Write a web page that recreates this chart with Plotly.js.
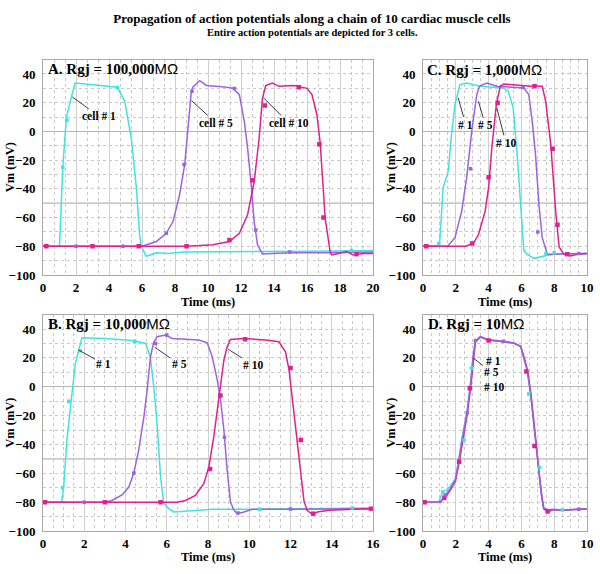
<!DOCTYPE html>
<html>
<head>
<meta charset="utf-8">
<script src="https://cdn.plot.ly/plotly-3.0.1.min.js"></script>
<style>html,body{margin:0;padding:0;background:#fff;}#chart{width:600px;height:574px;}</style>
</head>
<body>
<div id="chart"></div>
<script>
// ---------- Data (time in ms, Vm in mV) ----------
// Panel A: Rgj = 100,000 MOhm
var tA1 = [0, 1.0, 1.2, 1.42, 1.72, 1.95, 3.0, 4.5, 4.95, 5.35, 5.66, 5.86, 5.96, 6.26, 6.87, 7.6, 8.5, 12, 16, 20];
var vA1 = [-80, -80, -25, 10, 24, 33.7, 32.5, 30.7, 21, -4.6, -39.5, -73, -80, -87, -84.5, -85, -84, -84, -83.5, -83];
var tA5 = [0, 6.0, 6.87, 7.47, 7.88, 8.28, 8.59, 8.79, 8.99, 9.09, 9.5, 9.9, 11.0, 11.5, 11.9, 12.2, 12.4, 12.6, 12.8, 13.0, 13.3, 13.9, 15, 17, 20];
var vA5 = [-80, -80, -76.7, -71, -62.8, -44, -23, 0, 28, 31, 35.3, 32, 31, 30, 25.6, 7, -11.6, -35, -62.8, -79, -85.3, -85, -84.5, -84.5, -84];
var tA10 = [0, 8.7, 10.3, 11.3, 11.9, 12.4, 12.8, 13.1, 13.3, 13.5, 13.9, 14.3, 15.2, 16.0, 16.3, 16.6, 16.8, 17.1, 17.4, 17.5, 17.9, 18.4, 18.8, 19.4, 20];
var vA10 = [-80, -80, -79, -76.7, -71, -58, -35, -4.6, 23, 32, 33.7, 31.4, 32, 30, 25.6, 11.6, -8, -60.5, -83.7, -86, -85, -83.7, -86, -85, -85];
// sample markers seen on the curves
var mtA1 = [1.2, 1.45, 4.5, 18.7], mvA1 = [-25, 8, 30.5, -83];
var mtA5 = [2, 4.85, 7.47, 8.55, 9.03, 11.6, 12.9, 14.95], mvA5 = [-80, -80, -71, -23, 28, 29.8, -68.6, -84];
var mtA10 = [0.2, 3, 5.8, 8.7, 11.3, 12.7, 13.45, 15.5, 16.75, 17.0, 19.0], mvA10 = [-80, -80, -80, -80, -75.6, -34, 18, 30.7, -9, -60, -85.5];

// Panel B: Rgj = 10,000 MOhm
var tB1 = [0, 0.9, 1.0, 1.16, 1.37, 1.57, 1.73, 1.89, 3.03, 4.32, 4.97, 5.2, 5.37, 5.53, 5.7, 5.86, 6.1, 6.34, 7.56, 8.2, 10, 12, 14, 16];
var vB1 = [-80, -80, -69.5, -37, -9.3, 16, 25.4, 34, 33.5, 32, 30, 21, 0, -25.5, -62.5, -81, -84.5, -86.8, -85.7, -85, -85, -84.8, -84.5, -84];
var tB5 = [0, 3.0, 3.35, 3.83, 4.16, 4.4, 4.64, 4.89, 5.05, 5.21, 5.37, 5.53, 5.94, 6.26, 7.56, 7.96, 8.2, 8.45, 8.61, 8.77, 8.93, 9.09, 9.26, 9.42, 9.74, 10.15, 12, 14, 16];
var vB5 = [-80, -80, -78.8, -75, -69.5, -60, -44, -21, -2.4, 20.8, 31, 34.7, 35.8, 33.5, 32.4, 30.5, 21, 4.6, -9.3, -30, -58, -80, -85.7, -88, -86.8, -85, -85, -84.5, -84.5];
var tB10 = [0, 6.5, 6.91, 7.39, 7.8, 8.04, 8.28, 8.45, 8.61, 8.77, 8.93, 9.09, 9.74, 10.8, 11.44, 11.76, 11.93, 12.09, 12.33, 12.5, 12.65, 12.8, 13.06, 13.3, 13.87, 15, 16];
var vB10 = [-80, -80, -78.8, -75.3, -67, -55.6, -34.8, -16, 4.6, 18.5, 27.7, 32.8, 33.5, 32.4, 31.2, 24, 11.5, -9.3, -37, -62.5, -78.8, -85.7, -88.5, -86.8, -85.7, -85, -84.5];
var mtB1 = [0.95, 1.25, 1.8, 4.45, 10.5, 15], mvB1 = [-70, -10, 25, 31.5, -85, -84];
var mtB5 = [2, 4.4, 5.45, 6.0, 8.8, 9.45, 12], mvB5 = [-80, -60, 30, 35.8, -35, -87.5, -84.8];
var mtB10 = [0.1, 3.0, 5.7, 8.1, 8.6, 9.8, 12.0, 12.5, 13.1, 15.9], mvB10 = [-80, -80, -80, -57, -6, 33, 13, -37, -88, -84.5];

// Panel C: Rgj = 1,000 MOhm
var tC1 = [0, 1.0, 1.23, 1.54, 1.74, 1.95, 2.25, 2.66, 3.48, 4.92, 5.2, 5.5, 5.74, 5.94, 6.15, 6.35, 6.76, 7.38, 7.99, 9, 10];
var vC1 = [-80, -80, -39, -27.7, -2, 18.7, 32.6, 33.7, 31.4, 30.3, 28, 16.4, -16, -51, -83, -85.6, -88.4, -86.8, -85.6, -85.2, -85];
var tC5 = [0, 1.5, 1.95, 2.36, 2.66, 2.97, 3.28, 3.44, 3.89, 4.5, 6.15, 6.45, 6.66, 6.86, 7.07, 7.27, 7.58, 8.5, 10];
var vC5 = [-80, -80, -74, -55.5, -32.3, 0, 25.6, 31.4, 33.7, 31.4, 30.3, 25.6, 7, -16, -51, -74, -85.6, -85.2, -85];
var tC10 = [0, 2.6, 3.07, 3.38, 3.79, 4.0, 4.2, 4.47, 4.71, 4.92, 5.33, 6.56, 7.27, 7.48, 7.79, 8.09, 8.3, 8.6, 9.0, 9.4, 10];
var vC10 = [-80, -80, -78, -72, -55.5, -39, -11, 18.7, 31.4, 33, 32.6, 31.4, 31.4, 21, -9, -55.5, -80.5, -85.6, -86.8, -85.6, -85];
var mtC1 = [0.95, 7.5, 8.0], mvC1 = [-78, -85, -84.5];
var mtC5 = [2.9, 6.1, 7.0, 9.5], mvC5 = [-26, 30.5, -70, -85];
var mtC10 = [0.2, 3.0, 4.0, 4.55, 6.8, 7.9, 8.2, 8.8], mvC10 = [-80, -78, -32, 20, 31.5, -12, -65, -85.5];

// Panel D: Rgj = 10 MOhm (the three cells nearly coincide)
var tD1 = [0, 0.95, 1.2, 1.4, 1.66, 1.96, 2.17, 2.37, 2.68, 2.88, 3.05, 3.19, 3.5, 4.0, 4.93, 5.54, 5.95, 6.16, 6.36, 6.56, 6.73, 6.87, 7.08, 7.22, 7.34, 7.59, 8.0, 8.6, 10];
var vD1 = [-80, -80, -73, -72, -69, -64, -51, -36, -17, 1, 21, 31.4, 34.8, 32.5, 31.4, 30.3, 28, 20, 11, -4.8, -23, -41, -61.4, -75, -84, -85.3, -85.5, -85.7, -84.6];
var tD5 = [0, 1.0, 1.25, 1.35, 1.66, 1.96, 2.17, 2.37, 2.68, 2.88, 3.05, 3.19, 3.5, 4.0, 4.93, 5.54, 5.95, 6.16, 6.36, 6.56, 6.73, 6.87, 7.08, 7.22, 7.34, 7.59, 8.0, 8.6, 10];
var vD5 = [-80, -80, -77.5, -75.5, -70.5, -65, -52.4, -37.7, -18.5, -0.3, 20, 31.4, 34.8, 32.5, 31.4, 30.3, 28, 20, 11, -4.8, -23, -41, -61.4, -75, -84, -85.3, -85, -85.7, -84.6];
var tD10 = [0, 1.05, 1.3, 1.4, 1.7, 1.98, 2.2, 2.4, 2.7, 2.9, 3.07, 3.2, 3.5, 4.0, 4.93, 5.54, 5.95, 6.18, 6.38, 6.58, 6.75, 6.9, 7.1, 7.25, 7.38, 7.62, 8.0, 8.6, 10];
var vD10 = [-80, -80, -77, -76, -71, -65.5, -53, -38.5, -19, -1, 19, 31, 34.5, 32.3, 31.2, 30.2, 28, 20, 11, -4.8, -23, -41, -61.4, -76, -85, -86.4, -85.2, -85.5, -84.6];
var mtD1 = [1.2, 2.5, 2.95, 6.45, 7.1, 8.5], mvD1 = [-73, -37, 13, -5, -56, -85.5];
var mtD5 = [1.35, 2.7, 3.2, 4.9, 9.5], mvD5 = [-75, -18, 32, 31.5, -85];
var mtD10 = [0.1, 1.3, 2.2, 2.85, 4.0, 6.3, 6.8, 7.6], mvD10 = [-80, -77, -52, -1, 32, 10.5, -41, -86.4];

var cellNames = ['cell # 1', 'cell # 5', 'cell # 10'];
var tickValsY = [-100, -80, -60, -40, -20, 0, 20, 40];

// ---------- Styling ----------
var COL = ['#3ee4df', '#9b63e2', '#e0208f'];
var MSIZE = [3.5, 3.5, 4.5];
var FONT = '"Liberation Serif", "Times New Roman", serif';
var GRID = '#c9c9c9';

function tr(t, v, ci, xa, ya, name) {
  return {x: t, y: v, type: 'scatter', mode: 'lines', name: name, showlegend: false,
    xaxis: xa, yaxis: ya, line: {color: COL[ci], width: 1.5}, hoverinfo: 'x+y'};
}
function mk(t, v, ci, xa, ya, name) {
  return {x: t, y: v, type: 'scatter', mode: 'markers', name: name, showlegend: false,
    xaxis: xa, yaxis: ya, marker: {color: COL[ci], size: MSIZE[ci], symbol: 'square'}, hoverinfo: 'x+y'};
}

var data = [
  tr(tA1, vA1, 0, 'x', 'y', cellNames[0]), tr(tA5, vA5, 1, 'x', 'y', cellNames[1]), tr(tA10, vA10, 2, 'x', 'y', cellNames[2]),
  mk(mtA1, mvA1, 0, 'x', 'y', cellNames[0]), mk(mtA5, mvA5, 1, 'x', 'y', cellNames[1]), mk(mtA10, mvA10, 2, 'x', 'y', cellNames[2]),
  tr(tC1, vC1, 0, 'x2', 'y2', cellNames[0]), tr(tC5, vC5, 1, 'x2', 'y2', cellNames[1]), tr(tC10, vC10, 2, 'x2', 'y2', cellNames[2]),
  mk(mtC1, mvC1, 0, 'x2', 'y2', cellNames[0]), mk(mtC5, mvC5, 1, 'x2', 'y2', cellNames[1]), mk(mtC10, mvC10, 2, 'x2', 'y2', cellNames[2]),
  tr(tB1, vB1, 0, 'x3', 'y3', cellNames[0]), tr(tB5, vB5, 1, 'x3', 'y3', cellNames[1]), tr(tB10, vB10, 2, 'x3', 'y3', cellNames[2]),
  mk(mtB1, mvB1, 0, 'x3', 'y3', cellNames[0]), mk(mtB5, mvB5, 1, 'x3', 'y3', cellNames[1]), mk(mtB10, mvB10, 2, 'x3', 'y3', cellNames[2]),
  tr(tD1, vD1, 0, 'x4', 'y4', cellNames[0]), tr(tD10, vD10, 2, 'x4', 'y4', cellNames[2]), tr(tD5, vD5, 1, 'x4', 'y4', cellNames[1]),
  mk(mtD1, mvD1, 0, 'x4', 'y4', cellNames[0]), mk(mtD10, mvD10, 2, 'x4', 'y4', cellNames[2]), mk(mtD5, mvD5, 1, 'x4', 'y4', cellNames[1])
];

var W = 600, H = 574;
function px(a, b) { return [a / W, b / W]; }
function py(top, bottom) { return [1 - bottom / H, 1 - top / H]; }

function xax(range, minorD, dom, anchor) {
  return {domain: dom, range: range, anchor: anchor, dtick: 2, tick0: 0,
    showgrid: true, gridcolor: '#cfcfcf', gridwidth: 1,
    minor: {dtick: minorD, tick0: 0, showgrid: true, gridcolor: GRID, griddash: '3px,3px', gridwidth: 1},
    zeroline: false, showline: true, mirror: true, linecolor: '#a8a8a8', linewidth: 1,
    ticks: '', tickfont: {family: FONT, size: 13, color: '#000', weight: 'bold'},
    fixedrange: true};
}
function yax(dom, anchor) {
  return {domain: dom, range: [-100, 50], anchor: anchor, tickvals: tickValsY,
    showgrid: true, gridcolor: GRID, griddash: '3px,3px', gridwidth: 1,
    minor: {dtick: 10, tick0: 0, showgrid: true, gridcolor: GRID, griddash: '3px,3px', gridwidth: 1},
    zeroline: true, zerolinecolor: '#b5b5b5', zerolinewidth: 1.2,
    showline: true, mirror: true, linecolor: '#a8a8a8', linewidth: 1,
    ticks: '', ticklabelstandoff: 4, tickfont: {family: FONT, size: 13, color: '#000', weight: 'bold'},
    fixedrange: true};
}

var domXL = px(43, 373), domXR = px(423, 587);
var domYT = py(59.6, 275), domYB = py(314.6, 531);

function panelLabel(x, y, letter, val) {
  return {xref: 'paper', yref: 'paper', x: x / W, y: 1 - y / H, xanchor: 'left', yanchor: 'middle',
    showarrow: false, text: '<b>' + letter + '. Rgj = ' + val + '</b><span style="font-family:Liberation Sans,Arial,sans-serif;font-weight:normal;">MΩ</span>',
    font: {family: FONT, size: 15, color: '#000'}};
}
function callout(xa, ya, x, y, ax, ay, text, arrow) {
  return {xref: xa, yref: ya, x: x, y: y, axref: xa, ayref: ya, ax: ax, ay: ay,
    text: '<b>' + text + '</b>', showarrow: arrow, arrowhead: 0, arrowwidth: 0.9, arrowcolor: '#222',
    standoff: 0, startstandoff: 0,
    font: {family: FONT, size: 11.5, color: '#000'}};
}
function xTitle(xa, ypx) {
  return {xref: xa + ' domain', yref: 'paper', x: 0.5, y: 1 - ypx / H, xanchor: 'center', yanchor: 'middle',
    showarrow: false, text: '<b>Time (ms)</b>', font: {family: FONT, size: 12.5, color: '#000'}};
}
function yTitle(xpx, ya) {
  return {xref: 'paper', yref: ya + ' domain', x: xpx / W, y: 0.5, xanchor: 'center', yanchor: 'middle',
    textangle: -90, showarrow: false, text: '<b>Vm (mV)</b>', font: {family: FONT, size: 12.5, color: '#000'}};
}

var annotations = [
  {xref: 'paper', yref: 'paper', x: 0.52, y: 1 - 33 / H, xanchor: 'center', yanchor: 'middle', showarrow: false,
    text: '<b>Entire action potentials are depicted for 3 cells.</b>', font: {family: FONT, size: 10.5, color: '#000'}},
  panelLabel(46, 68, 'A', '100,000'),
  panelLabel(425, 69, 'C', '1,000'),
  panelLabel(46, 323, 'B', '10,000'),
  panelLabel(426, 323, 'D', '10'),
  xTitle('x', 302), xTitle('x2', 302), xTitle('x3', 557), xTitle('x4', 557),
  yTitle(10, 'y'), yTitle(391, 'y2'), yTitle(10, 'y3'), yTitle(391, 'y4'),
  callout('x', 'y', 1.78, 24, 3.4, 10.5, cellNames[0], true),
  callout('x', 'y', 9.0, 21.4, 10.5, 5.8, cellNames[1], true),
  callout('x', 'y', 13.4, 23, 14.9, 5.8, cellNames[2], true),
  callout('x2', 'y2', 2.15, 23.3, 2.6, 4.8, '# 1', true),
  callout('x2', 'y2', 3.38, 21, 3.8, 4.3, '# 5', true),
  callout('x2', 'y2', 4.5, 16.4, 5.05, -8, '# 10', true),
  callout('x3', 'y3', 1.73, 25.4, 2.95, 15.7, '# 1', true),
  callout('x3', 'y3', 5.42, 27.3, 6.6, 15.7, '# 5', true),
  callout('x3', 'y3', 8.98, 26, 10.2, 15, '# 10', true),
  callout('x4', 'y4', 4.3, 17.8, 4.3, 17.8, '# 1', false),
  callout('x4', 'y4', 3.05, 20, 4.2, 9.9, '# 5', true),
  callout('x4', 'y4', 4.3, -0.3, 4.3, -0.3, '# 10', false)
];

function hline(xa, ya, val) {
  return {type: 'line', xref: xa + ' domain', yref: ya, x0: 0, x1: 1, y0: val, y1: val,
    line: {color: '#b5b5b5', width: 1.2}, layer: 'below'};
}

var layout = {
  width: W, height: H, paper_bgcolor: '#fff', plot_bgcolor: '#fff',
  margin: {l: 0, r: 0, t: 0, b: 0},
  showlegend: false,
  title: {text: '<b>Propagation of action potentials along a chain of 10 cardiac muscle cells</b>',
    x: 0.52, xanchor: 'center', y: 1 - 18 / H, yanchor: 'middle',
    font: {family: FONT, size: 13, color: '#000'}},
  xaxis: xax([0, 20], 2 / 3, domXL, 'y'),
  yaxis: yax(domYT, 'x'),
  xaxis2: xax([0, 10], 0.5, domXR, 'y2'),
  yaxis2: yax(domYT, 'x2'),
  xaxis3: xax([0, 16], 0.5, domXL, 'y3'),
  yaxis3: yax(domYB, 'x3'),
  xaxis4: xax([0, 10], 0.5, domXR, 'y4'),
  yaxis4: yax(domYB, 'x4'),
  annotations: annotations,
  shapes: [hline('x', 'y', -50), hline('x2', 'y2', -50), hline('x3', 'y3', -50), hline('x4', 'y4', -50)]
};

Plotly.newPlot('chart', data, layout, {displayModeBar: false, staticPlot: true});
</script>
</body>
</html>
